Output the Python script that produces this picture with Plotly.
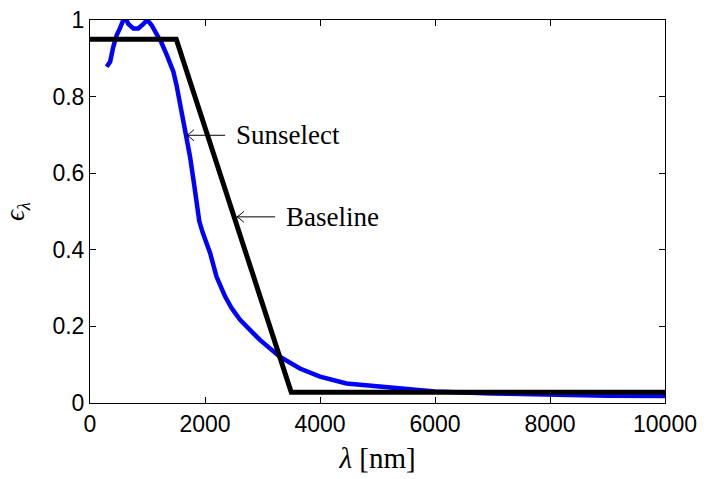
import plotly.graph_objects as go

# Sunselect measured emissivity
sun_wl = [290, 350, 405, 465, 520, 580, 620, 665, 755, 840, 930, 995, 1070, 1160, 1245,
          1335, 1450, 1505, 1565, 1610, 1680, 1740, 1825, 1900, 1960, 2090, 2200, 2350,
          2465, 2610, 2960, 3300, 3650, 4000, 4460, 5040, 6000, 7000, 8000, 9000, 10000]
sun_eps = [0.878, 0.891, 0.93, 0.961, 0.978, 1.0, 1.005, 0.99, 0.978, 0.978, 0.99, 1.0,
           0.987, 0.965, 0.94, 0.909, 0.865, 0.83, 0.78, 0.74, 0.695, 0.643, 0.556,
           0.475, 0.445, 0.391, 0.33, 0.278, 0.247, 0.217, 0.164, 0.121, 0.09, 0.069,
           0.051, 0.043, 0.03, 0.025, 0.021, 0.019, 0.018]

# Baseline piecewise-linear emissivity
base_wl = [0, 1500, 3500, 10000]
base_eps = [0.95, 0.95, 0.028, 0.028]

x_ticks = [0, 2000, 4000, 6000, 8000, 10000]
y_ticks = [0, 0.2, 0.4, 0.6, 0.8, 1]
y_tick_labels = ["0", "0.2", "0.4", "0.6", "0.8", "1"]

# callouts: label, arrow tip (x, y), arrow tail x, text x
labels = ["Sunselect", "Baseline"]
tip_x = [1685, 2555]
tip_y = [0.699, 0.486]
tail_x = [2350, 3220]
text_x = [2510, 3380]

fig = go.Figure()
fig.add_trace(go.Scatter(x=sun_wl, y=sun_eps, mode="lines",
                         line=dict(color="#0000ff", width=4.5), name="Sunselect"))
fig.add_trace(go.Scatter(x=base_wl, y=base_eps, mode="lines",
                         line=dict(color="black", width=5), name="Baseline"))

serif = "Liberation Serif"
sans = "Liberation Sans"

for lab, tx, ty, ax, lx in zip(labels, tip_x, tip_y, tail_x, text_x):
    fig.add_shape(type="line", xref="x", yref="y", x0=tx, y0=ty, x1=ax, y1=ty,
                  line=dict(color="black", width=1))
    fig.add_shape(type="path", xref="x", yref="y", xsizemode="pixel", ysizemode="pixel",
                  xanchor=tx, yanchor=ty, path="M 7,5.5 Q 2.5,1.2 0,0 Q 2.5,-1.2 7,-5.5",
                  line=dict(color="black", width=1))
    fig.add_annotation(x=lx, y=ty, xref="x", yref="y", text=lab, showarrow=False,
                       xanchor="left", yanchor="middle",
                       font=dict(family=serif, size=27, color="black"))

axis_common = dict(showline=True, linecolor="black", linewidth=1, mirror="ticks",
                   ticks="inside", ticklen=6, tickcolor="black", tickwidth=1,
                   showgrid=False, zeroline=False, automargin=False,
                   tickfont=dict(family=sans, size=23, color="black"))
fig.update_xaxes(range=[0, 10000], tickvals=x_ticks, ticktext=[str(v) for v in x_ticks],
                 title=dict(text="<i>λ</i> [nm]", standoff=12,
                            font=dict(family=serif, size=29, color="black")),
                 **axis_common)
fig.update_yaxes(range=[0, 1], tickvals=y_ticks, ticktext=y_tick_labels,
                 title=dict(text="<i>ϵ</i><sub><i>λ</i></sub>", standoff=20,
                            font=dict(family=serif, size=27, color="black")),
                 **axis_common)

fig.update_layout(width=704, height=479, margin=dict(l=90, r=39, t=20, b=76, autoexpand=False),
                  plot_bgcolor="white", paper_bgcolor="white", showlegend=False)

fig.write_html("out.html")
